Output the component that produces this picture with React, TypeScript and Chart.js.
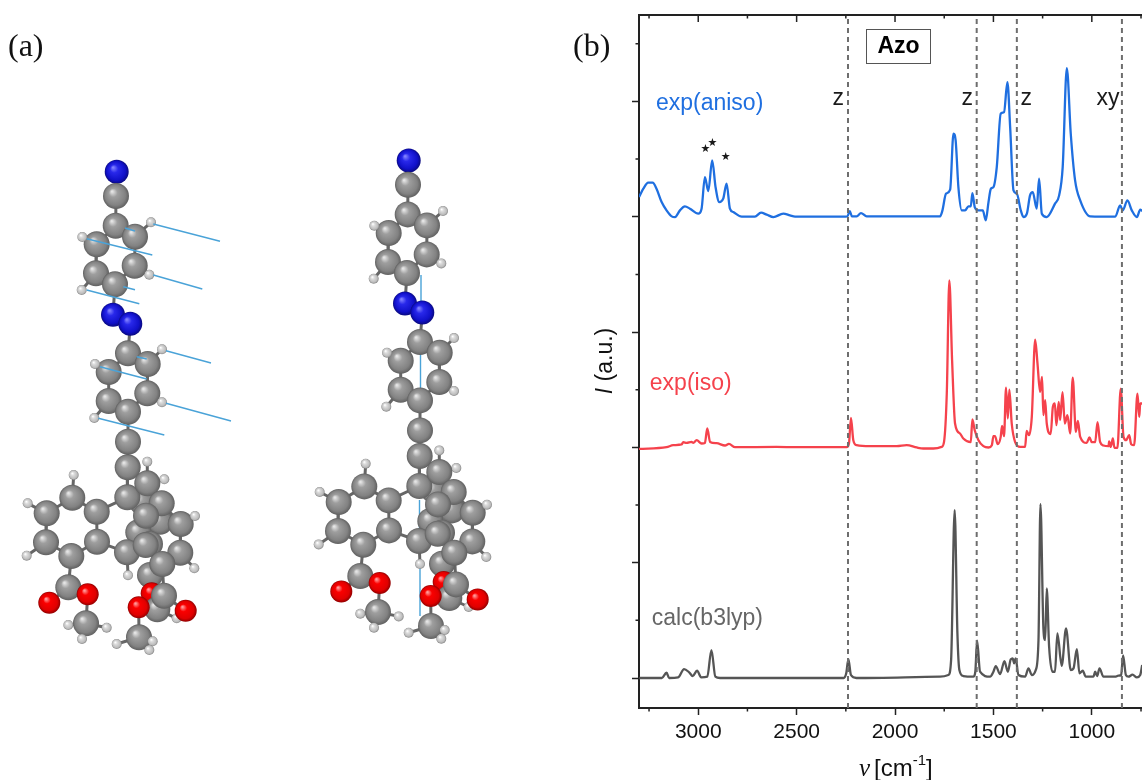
import React, { useEffect, useRef } from "react";
import { Chart, registerables } from "chart.js";

Chart.register(...registerables);

// ---------- spectrum values (wavenumber in cm-1, stacked intensity in a.u.) ----------
const anisoWavenumber = [3301,3279,3254,3232,3212,3186,3161,3135,3118,3093,3068,3042,3000,2983,2966,2949,2929,2912,2893,2873,2856,2839,2822,2779,2712,2681,2652,2618,2568,2534,2508,2263,2242,2230,2219,2195,2173,2144,1771,1759,1741,1720,1703,1692,1678,1661,1644,1627,1615,1607,1595,1576,1554,1539,1525,1513,1500,1483,1463,1446,1429,1415,1398,1381,1361,1347,1330,1314,1300,1280,1268,1254,1229,1187,1166,1148,1127,1107,1085,1059,1008,881,856,843,819,797,771,754,744];
const anisoIntensity = [481.3,489.7,495.7,495.7,489.7,476.3,468,462,461.3,468,472,469.7,464.7,469.7,501.3,487.3,518,491.3,476.3,479.7,494.7,469.7,466.3,461.7,461.7,465.7,463.7,461.3,464.7,463,461.7,461.7,462,467.3,462,462,465.3,462,462,468,484.7,488.7,544.7,538,491.3,468,468,472,472,485.3,471.3,468,468,458,476.3,489.7,491.3,511.3,564.7,566.3,596.3,551.3,488,484.7,468,461.3,464.7,483,486.3,469.7,499.7,464.7,461.3,474.7,483,511.3,610.3,544.7,498,478,462,461.7,473,468,478,468,461.3,468.7,467.3];

const isoWavenumber = [3301,3161,3127,3085,3076,3059,3034,3025,3008,2983,2966,2954,2940,2907,2864,2844,2813,2602,2500,2246,2234,2224,2212,2195,2127,1991,1941,1890,1856,1805,1763,1751,1737,1724,1710,1695,1670,1653,1615,1607,1595,1576,1551,1525,1508,1500,1492,1478,1463,1456,1446,1436,1427,1419,1407,1390,1364,1339,1331,1319,1305,1288,1276,1263,1253,1246,1237,1229,1209,1198,1188,1180,1168,1161,1149,1137,1124,1110,1097,1081,1071,1059,1026,1012,1000,983,971,958,941,915,912,904,893,885,870,853,839,826,810,800,785,768,759,754,744];
const isoIntensity = [229.3,231,233,233.7,236,235.3,236.3,235.3,238,234.7,235.3,249.7,236.3,235,232.7,234.3,231,231.3,231,231,234.7,260.3,238,233,232,232,233,230.7,229.7,229.7,231.3,236.3,284.7,398,318,254.7,244.7,239.7,236,258.7,248,238,232,230.7,233,242,242,234,241.3,252.3,242,290.7,259.7,288.7,254.7,236.3,231.3,231.3,247.3,243,261.3,338.7,314.7,286.3,301.3,263,278,254.7,244,271.3,274.7,253,276.3,258,286,254.7,263,244.7,300.7,246.3,257.3,241.3,235.3,240.7,236,236,256,236.3,232.7,232,236.7,231.3,239.7,230.3,230.3,289.7,241.3,238,243,234,233,284.7,261.3,274.7,274.7];

const calcWavenumber = [3299,3185,3161,3148,3102,3072,3046,3028,3006,2985,2954,2933,2913,2889,2261,2248,2237,2224,2196,1771,1729,1715,1697,1683,1673,1653,1602,1592,1583,1568,1517,1500,1488,1466,1444,1427,1412,1402,1395,1387,1373,1339,1322,1305,1285,1271,1261,1246,1237,1229,1217,1200,1187,1175,1153,1131,1107,1093,1076,1063,1046,1031,992,983,973,961,941,882,865,851,841,827,814,793,771,754,744];
const calcIntensity = [0,0,5.3,0,0.7,9,5.7,2,7.3,0.7,1.3,28,1.3,0,0,4.7,19,3,0,1.3,3,18,168,44.7,8,2,1.3,6.3,37.3,6.3,1.3,6.3,12,4,17,6.3,18.7,19.7,14.7,19.7,3,1.3,9.7,3,8,38,174,49.7,38,89.7,31.3,6.3,6.3,44.7,12.3,49.7,8,9.7,29,4.7,7.3,1.3,1.3,6.3,2,9.7,1.3,1.3,2.3,3,22.7,3,1.3,3.3,0.7,3,13];

const markerWavenumbers = [2239, 1585, 1381, 847];
const majorXTicks = [3000, 2500, 2000, 1500, 1000];
const minorXTicks = [3250, 2750, 2250, 1750, 1250, 750];
const majorYTicks = [0, 115.4, 230.8, 346.2, 461.6, 577];
const minorYTicks = [57.7, 173.1, 288.5, 403.9, 519.3, 634.7];

const seriesLabels = ["exp(aniso)", "exp(iso)", "calc(b3lyp)"];
const seriesLabelWavenumber = [3215, 3246, 3236];
const seriesLabelIntensity = [575, 295, 59];
const assignLabels = ["z", "z", "z", "xy"];
const assignWavenumber = [2289, 1633, 1333, 918];
const assignIntensity = [580, 580, 580, 580];
const starWavenumber = [2964, 2928, 2861];
const starIntensity = [529, 535, 521];

const BLUE = "#1f6fe0";
const RED = "#f5424c";
const GREY = "#555555";

// ---------- molecule (picture plane coordinates) ----------
const atomX = [116.7,116,115.7,135,96.7,96,134.7,115,151,82.3,149.3,81.7,113,130.3,128,147.7,108.7,108.7,147.3,128,162,95,162,94.3,128,127.7,164.3,141.7,160,138.3,127.3,96.7,72.3,46.7,46,71.3,97,127,73.7,27.7,26.7,128,68.3,49.3,87.7,86,68.3,106.7,82,147.3,147.3,161.7,146,150,145.7,180.7,180.3,195,194.3,150,162.3,151.7,157.3,176.7,164,185.7,138.7,139,116.7,152.7,149.3];
const atomY = [171.7,196,225.7,236.7,244.3,273.3,265.7,284.3,222.3,237,274.7,290,314.7,323.7,353.3,364,372,401,393.3,411.7,349.3,364,402.3,418,441.7,467.3,479.3,501.7,521.7,532.3,497.3,511.7,497.7,513.3,542.3,556,541.7,552.3,475,503.3,555.7,575.3,587.3,602.7,594.3,623.3,625,627.7,639,461.7,483.3,503.3,515.7,544,545,524,552.7,516,568.3,575,564,593.3,609.3,618.3,595.7,610.7,607.3,637.3,644,641.3,650];
const atomKinds = [
  "N", "C", "C", "C", "C", "C", "C", "C", "H", "H", "H", "H",
  "N", "N", "C", "C", "C", "C", "C", "C", "H", "H", "H", "H",
  "C", "C", "H", "C", "C", "C", "C", "C", "C", "C", "C", "C", "C", "C",
  "H", "H", "H", "H", "C", "O", "O", "C", "H", "H", "H", "H",
  "C", "C", "C", "C", "C", "C", "C", "H", "H", "C", "C",
  "O", "C", "H", "C", "O", "O", "C", "H", "H", "H",
];
const bondStart = [0,1,2,2,3,4,5,6,3,4,6,5,7,12,13,14,14,15,16,17,18,15,16,18,17,19,24,25,30,31,32,33,34,35,36,36,32,33,34,37,35,42,42,44,45,45,45,50,50,55,56,55,51,56,60,60,64,64,66,67,67,67,59,61,62,30,37,52,54];
const bondEnd = [1,2,3,4,6,5,7,7,8,9,10,11,12,13,14,15,16,18,17,19,19,20,21,22,23,24,25,30,31,32,33,34,35,36,31,37,38,39,40,41,42,43,44,45,46,47,48,49,26,57,58,56,55,60,59,64,65,66,67,68,69,70,61,62,63,52,54,51,60];
const moleculeShiftX = 292;
const moleculeShiftY = -11.3;

const frontVectorX = [153.3,220,86.7,152.3,153.3,202.3,86.7,139.3,123.3,135,125,135,166,211,100,146.7,136.7,146.7,166,231,98.3,164.3];
const frontVectorY = [224,241.3,238.7,255,275,289,290,303.7,286.7,289.7,228,231,350.7,363,366.7,379,356.7,359,403.3,421,418.3,435];
const backVectorX = [421,421,420.5,420.5,419.5,419.5,420,420];
const backVectorY = [275,310,353,400,500,530,567,616];

const atomRadius: Record<string, number> = { C: 13, N: 12, O: 11, H: 5 };
const atomShade: Record<string, [string, string, string, string]> = {
  C: ["#e4e4e4", "#9e9e9e", "#828282", "#606060"],
  N: ["#8080ff", "#2828ea", "#1010c8", "#0a0a80"],
  O: ["#ff9a9a", "#fa0000", "#e00000", "#920000"],
  H: ["#ffffff", "#dcdcdc", "#bcbcbc", "#858585"],
};

function pairs(xs: number[], ys: number[]) {
  const out: { x: number; y: number }[] = [];
  for (let i = 0; i < xs.length; i += 2) {
    out.push({ x: xs[i], y: ys[i] }, { x: xs[i + 1], y: ys[i + 1] }, { x: NaN, y: NaN });
  }
  return out;
}

function moleculeDatasets(dx: number, dy: number, order: number) {
  const bx: number[] = [];
  const by: number[] = [];
  bondStart.forEach((s, i) => {
    const e = bondEnd[i];
    bx.push(atomX[s] + dx, atomX[e] + dx);
    by.push(atomY[s] + dy, atomY[e] + dy);
  });
  const shade = (c: any) => {
    const p = c.parsed;
    const k = atomKinds[c.dataIndex];
    if (!p || !k) return "#888888";
    const r = atomRadius[k];
    const px = c.chart.scales.x.getPixelForValue(p.x);
    const py = c.chart.scales.y.getPixelForValue(p.y);
    if (!Number.isFinite(px) || !Number.isFinite(py)) return "#888888";
    const g = c.chart.ctx.createRadialGradient(px - r * 0.3, py - r * 0.35, r * 0.05, px, py, r);
    const s = atomShade[k];
    g.addColorStop(0, s[0]);
    g.addColorStop(0.3, s[1]);
    g.addColorStop(0.78, s[2]);
    g.addColorStop(1, s[3]);
    return g;
  };
  return [
    {
      label: "bonds",
      data: pairs(bx, by),
      showLine: true,
      spanGaps: false,
      borderColor: "#666666",
      borderWidth: 3,
      pointRadius: 0,
      order: order + 1,
    },
    {
      label: "atoms",
      data: atomKinds.map((_, i) => ({ x: atomX[i] + dx, y: atomY[i] + dy })),
      showLine: false,
      pointRadius: (c: any) => atomRadius[atomKinds[c.dataIndex]] ?? 4,
      pointBackgroundColor: shade,
      pointBorderWidth: 0,
      order,
    },
  ];
}

function line(xs: number[], ys: number[], color: string, label: string) {
  return {
    label,
    data: xs.map((x, i) => ({ x, y: ys[i] })),
    showLine: true,
    borderColor: color,
    borderWidth: 2.3,
    pointRadius: 0,
    cubicInterpolationMode: "monotone" as const,
    order: 2,
  };
}

const spectrumDecor = {
  id: "spectrumDecor",
  afterDraw(chart: any) {
    const { ctx, chartArea: a, scales } = chart;
    const sx = scales.x;
    const sy = scales.y;
    ctx.save();
    ctx.strokeStyle = "#222222";
    ctx.lineWidth = 2;
    ctx.beginPath();
    ctx.moveTo(a.left - 1, a.top);
    ctx.lineTo(a.right, a.top);
    const tick = (x0: number, y0: number, x1: number, y1: number) => {
      ctx.moveTo(x0, y0);
      ctx.lineTo(x1, y1);
    };
    ctx.stroke();
    ctx.lineWidth = 1.5;
    ctx.beginPath();
    majorXTicks.forEach((v) => {
      const p = sx.getPixelForValue(v);
      tick(p, a.top, p, a.top + 7);
    });
    minorXTicks.forEach((v) => {
      const p = sx.getPixelForValue(v);
      tick(p, a.top, p, a.top + 3.5);
      tick(p, a.bottom, p, a.bottom + 3.5);
    });
    minorYTicks.forEach((v) => {
      const p = sy.getPixelForValue(v);
      tick(a.left, p, a.left - 3.5, p);
    });
    ctx.stroke();

    ctx.textBaseline = "middle";
    ctx.textAlign = "left";
    ctx.font = '23px "Liberation Sans", Arial, sans-serif';
    [BLUE, RED, "#666666"].forEach((c, i) => {
      ctx.fillStyle = c;
      ctx.fillText(seriesLabels[i], sx.getPixelForValue(seriesLabelWavenumber[i]), sy.getPixelForValue(seriesLabelIntensity[i]));
    });
    ctx.fillStyle = "#1a1a1a";
    ctx.textAlign = "center";
    assignLabels.forEach((t, i) => {
      ctx.fillText(t, sx.getPixelForValue(assignWavenumber[i]), sy.getPixelForValue(assignIntensity[i]));
    });
    ctx.font = '11px "DejaVu Sans", sans-serif';
    starWavenumber.forEach((w, i) => {
      ctx.fillText("★", sx.getPixelForValue(w), sy.getPixelForValue(starIntensity[i]));
    });

    // "Azo" box
    ctx.fillStyle = "#ffffff";
    ctx.strokeStyle = "#555555";
    ctx.lineWidth = 1;
    ctx.fillRect(866.5, 29.5, 64, 34);
    ctx.strokeRect(866.5, 29.5, 64, 34);
    ctx.fillStyle = "#000000";
    ctx.font = 'bold 23px "Liberation Sans", Arial, sans-serif';
    ctx.fillText("Azo", 898.5, 47);

    // y title
    ctx.save();
    ctx.translate(606, 361);
    ctx.rotate(-Math.PI / 2);
    ctx.textAlign = "left";
    ctx.fillStyle = "#111111";
    ctx.font = 'italic 23px "Liberation Sans", Arial, sans-serif';
    const iw = ctx.measureText("I").width;
    ctx.font = '23px "Liberation Sans", Arial, sans-serif';
    const restW = ctx.measureText(" (a.u.)").width;
    const startY = -(iw + restW) / 2;
    ctx.font = 'italic 23px "Liberation Sans", Arial, sans-serif';
    ctx.fillText("I", startY, 0);
    ctx.font = '23px "Liberation Sans", Arial, sans-serif';
    ctx.fillText(" (a.u.)", startY + iw, 0);
    ctx.restore();

    // x title
    ctx.textAlign = "left";
    ctx.fillStyle = "#111111";
    let tx = 859;
    const ty = 769;
    ctx.font = 'italic 25px "Liberation Serif", serif';
    ctx.fillText("ν", tx, ty);
    tx += ctx.measureText("ν").width + 4;
    ctx.font = '24px "Liberation Sans", Arial, sans-serif';
    ctx.fillText("[cm", tx, ty);
    tx += ctx.measureText("[cm").width;
    ctx.font = '15px "Liberation Sans", Arial, sans-serif';
    ctx.fillText("-1", tx, ty - 8);
    tx += ctx.measureText("-1").width;
    ctx.font = '24px "Liberation Sans", Arial, sans-serif';
    ctx.fillText("]", tx, ty);
    ctx.restore();
  },
};

export default function App() {
  const specRef = useRef<HTMLCanvasElement>(null);
  const molRef = useRef<HTMLCanvasElement>(null);

  useEffect(() => {
    const yMin = -30;
    const yMax = 663.5;
    const spec = new Chart(specRef.current as HTMLCanvasElement, {
      type: "scatter",
      data: {
        datasets: [
          ...markerWavenumbers.map((w) => ({
            label: "marker " + w,
            data: [{ x: w, y: yMin }, { x: w, y: yMax }],
            showLine: true,
            borderColor: "#6e6e6e",
            borderWidth: 2,
            borderDash: [5, 4],
            pointRadius: 0,
            order: 1,
          })),
          line(anisoWavenumber, anisoIntensity, BLUE, seriesLabels[0]),
          line(isoWavenumber, isoIntensity, RED, seriesLabels[1]),
          line(calcWavenumber, calcIntensity, GREY, seriesLabels[2]),
        ] as any,
      },
      options: {
        responsive: false,
        animation: false,
        layout: { autoPadding: false, padding: { top: 15, right: 0, bottom: 0, left: 0 } },
        plugins: { legend: { display: false }, tooltip: { enabled: false } },
        scales: {
          x: {
            type: "linear",
            reverse: true,
            min: 745,
            max: 3301,
            afterFit: (s: any) => { s.height = 72; },
            afterBuildTicks: (s: any) => { s.ticks = majorXTicks.map((value) => ({ value })); },
            grid: { drawOnChartArea: false, drawTicks: true, tickLength: 7, tickColor: "#222222", tickWidth: 1.5 },
            border: { color: "#222222", width: 2 },
            ticks: {
              autoSkip: false,
              maxRotation: 0,
              padding: 5,
              color: "#111111",
              font: { family: '"Liberation Sans", Arial, sans-serif', size: 21 },
              callback: (v: any) => String(v),
            },
          },
          y: {
            type: "linear",
            min: yMin,
            max: yMax,
            afterFit: (s: any) => { s.width = 639; },
            afterBuildTicks: (s: any) => { s.ticks = majorYTicks.map((value) => ({ value })); },
            grid: { drawOnChartArea: false, drawTicks: true, tickLength: 7, tickColor: "#222222", tickWidth: 1.5 },
            border: { color: "#222222", width: 2 },
            ticks: { display: false },
          },
        },
      } as any,
      plugins: [spectrumDecor],
    });

    const mol = new Chart(molRef.current as HTMLCanvasElement, {
      type: "scatter",
      data: {
        datasets: [
          ...moleculeDatasets(0, 0, 2),
          ...moleculeDatasets(moleculeShiftX, moleculeShiftY, 2),
          {
            label: "displacement front",
            data: pairs(frontVectorX, frontVectorY),
            showLine: true,
            spanGaps: false,
            borderColor: "#4aa3d8",
            borderWidth: 1.4,
            pointRadius: 0,
            order: 1,
          },
          {
            label: "displacement back",
            data: pairs(backVectorX, backVectorY),
            showLine: true,
            spanGaps: false,
            borderColor: "#4aa3d8",
            borderWidth: 1.4,
            pointRadius: 0,
            order: 5,
          },
        ] as any,
      },
      options: {
        responsive: false,
        animation: false,
        layout: { autoPadding: false, padding: 0 },
        plugins: { legend: { display: false }, tooltip: { enabled: false } },
        scales: {
          x: { type: "linear", min: 0, max: 570, display: false },
          y: { type: "linear", min: 0, max: 780, reverse: true, display: false },
        },
      } as any,
    });

    return () => {
      spec.destroy();
      mol.destroy();
    };
  }, []);

  const labelStyle: React.CSSProperties = {
    position: "fixed",
    top: 27,
    fontFamily: '"Liberation Serif", serif',
    fontSize: 32,
    lineHeight: "36px",
    color: "#111111",
    zIndex: 3,
  };

  return (
    <div style={{ position: "fixed", left: 0, top: 0, width: 1142, height: 780, background: "#ffffff", overflow: "hidden" }}>
      <canvas ref={molRef} width={570} height={780} style={{ position: "absolute", left: 0, top: 0, width: 570, height: 780 }} />
      <canvas ref={specRef} width={1142} height={780} style={{ position: "absolute", left: 0, top: 0, width: 1142, height: 780 }} />
      <div style={{ ...labelStyle, left: 8 }}>(a)</div>
      <div style={{ ...labelStyle, left: 573 }}>(b)</div>
    </div>
  );
}
